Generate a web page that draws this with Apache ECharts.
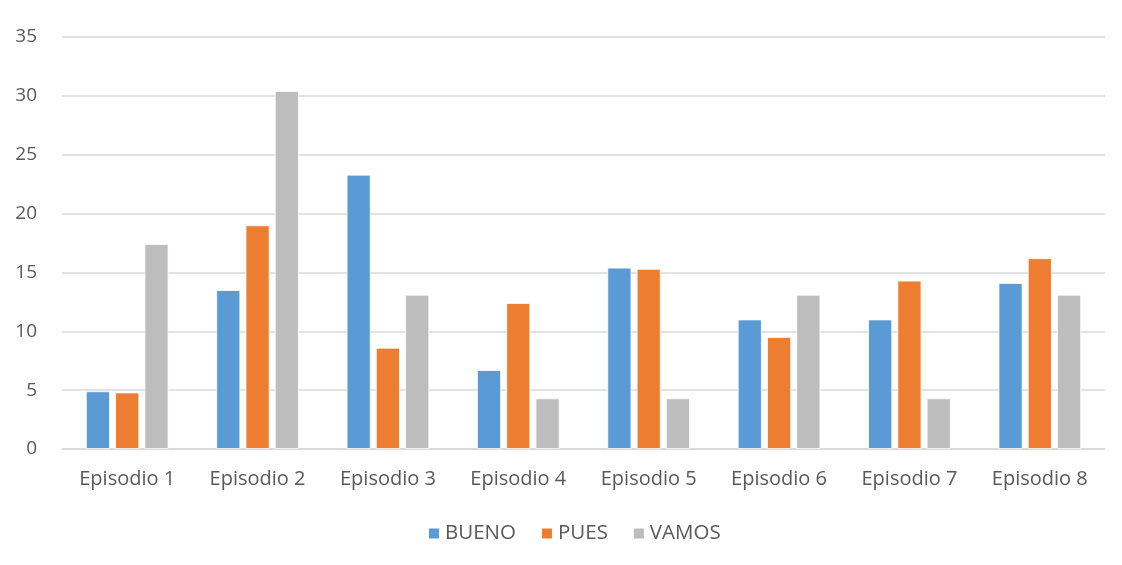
<!DOCTYPE html>
<html lang="es" style="height: 100%">
<head>
  <meta charset="UTF-8">
  <title>Episodios</title>
</head>
<body style="height: 100%; margin: 0">
<div id="container" style="width: 1122px; height: 565px; background-color: #fff"></div>
<script type="text/javascript" src="https://cdn.jsdelivr.net/npm/echarts@6/dist/echarts.min.js"></script>

<script type="text/javascript">
  var episodios = ['Episodio 1', 'Episodio 2', 'Episodio 3', 'Episodio 4', 'Episodio 5', 'Episodio 6', 'Episodio 7', 'Episodio 8'];
  var bueno = [4.9, 13.5, 23.3, 6.7, 15.4, 11.0, 11.0, 14.1];
  var pues = [4.8, 19.0, 8.6, 12.4, 15.3, 9.5, 14.3, 16.2];
  var vamos = [17.4, 30.4, 13.1, 4.3, 4.3, 13.1, 4.3, 13.1];

  var dom = document.getElementById('container');
  var myChart = echarts.init(dom, null, { renderer: 'canvas' });

  var fuente = 'Open Sans';
  function serie(nombre, datos, color) {
    return {
      name: nombre,
      type: 'bar',
      data: datos,
      barWidth: 24,
      barGap: '22%',
      itemStyle: { color: color, borderColor: '#fff', borderWidth: 0.8 },
      emphasis: { disabled: true }
    };
  }

  var option = {
    animation: false,
    color: ['#5B9BD5', '#ED7D31', '#BDBDBD'],
    grid: { left: 62, right: 17, top: 37, bottom: 116 },
    legend: {
      bottom: 16,
      left: 422,
      itemWidth: 12,
      itemHeight: 12,
      itemGap: 24,
      icon: 'rect',
      textStyle: { fontFamily: fuente, fontSize: 20.5, color: '#595959' },
      data: ['BUENO', 'PUES', 'VAMOS']
    },
    xAxis: {
      type: 'category',
      data: episodios,
      axisLine: { lineStyle: { color: '#D9D9D9', width: 1.5 } },
      axisTick: { show: false },
      axisLabel: { fontFamily: fuente, fontSize: 20, color: '#595959', margin: 20 }
    },
    yAxis: {
      type: 'value',
      min: 0,
      max: 35,
      interval: 5,
      axisLine: { show: false },
      axisTick: { show: false },
      splitLine: { lineStyle: { color: '#D9D9D9', width: 1.5 } },
      axisLabel: { fontFamily: fuente, fontSize: 19, color: '#595959', margin: 25 }
    },
    series: [
      serie('BUENO', bueno, '#5B9BD5'),
      serie('PUES', pues, '#ED7D31'),
      serie('VAMOS', vamos, '#BDBDBD')
    ]
  };
  myChart.setOption(option);

  window.addEventListener('resize', myChart.resize);
</script>
</body>
</html>
